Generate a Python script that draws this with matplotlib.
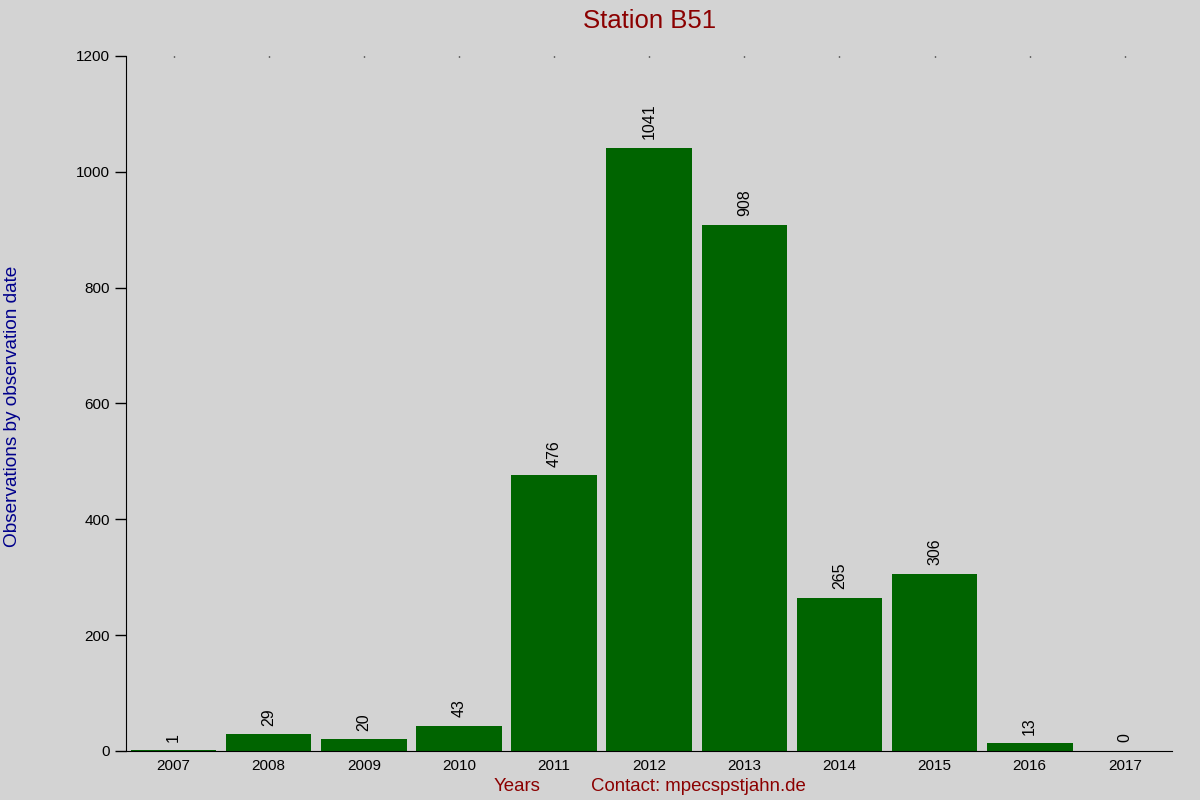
import matplotlib
matplotlib.use("Agg")
import matplotlib.pyplot as plt

years = ["2007", "2008", "2009", "2010", "2011", "2012", "2013", "2014", "2015", "2016", "2017"]
counts = [1, 29, 20, 43, 476, 1041, 908, 265, 306, 13, 0]
y_ticks = [0, 200, 400, 600, 800, 1000, 1200]

plt.rcParams['font.family'] = ['Liberation Sans', 'DejaVu Sans']

fig = plt.figure(figsize=(12, 8), dpi=100, facecolor='#d3d3d3')
ax = fig.add_axes([0.105, 0.06125, 0.872, 0.86875])
ax.set_facecolor('#d3d3d3')

x = list(range(len(years)))
ax.bar(x, counts, width=0.9, color='#006400')

# value labels, turned upright above each bar
for xi, v in zip(x, counts):
    ax.text(xi, v + 15, str(v), rotation=90, ha='center', va='bottom',
            fontsize=11.5, color='black')

ax.set_xlim(-0.5, len(years) - 0.5)
ax.set_ylim(0, 1200)
ax.set_yticks(y_ticks)
ax.set_xticks(x)
ax.set_xticklabels(years, fontsize=11)
ax.tick_params(axis='y', labelsize=11, length=8, width=1, direction='out')
ax.tick_params(axis='x', bottom=False, top=True, length=1, width=1,
               direction='in', pad=6)

for side in ['top', 'right']:
    ax.spines[side].set_visible(False)

ax.set_title("Station B51", fontsize=18.5, color='#8b0000', pad=20)
fig.text(0.0035, 0.4925, "Observations by observation date", rotation=90,
         ha='left', va='center', fontsize=13.7, color='#00008b')
fig.text(0.431, 0.017, "Years", ha='center', va='center', fontsize=13.4, color='#8b0000')
fig.text(0.4925, 0.017, "Contact: mpecspstjahn.de", ha='left', va='center',
         fontsize=13.4, color='#8b0000')

fig.savefig("out.png", dpi=100, facecolor=fig.get_facecolor())
